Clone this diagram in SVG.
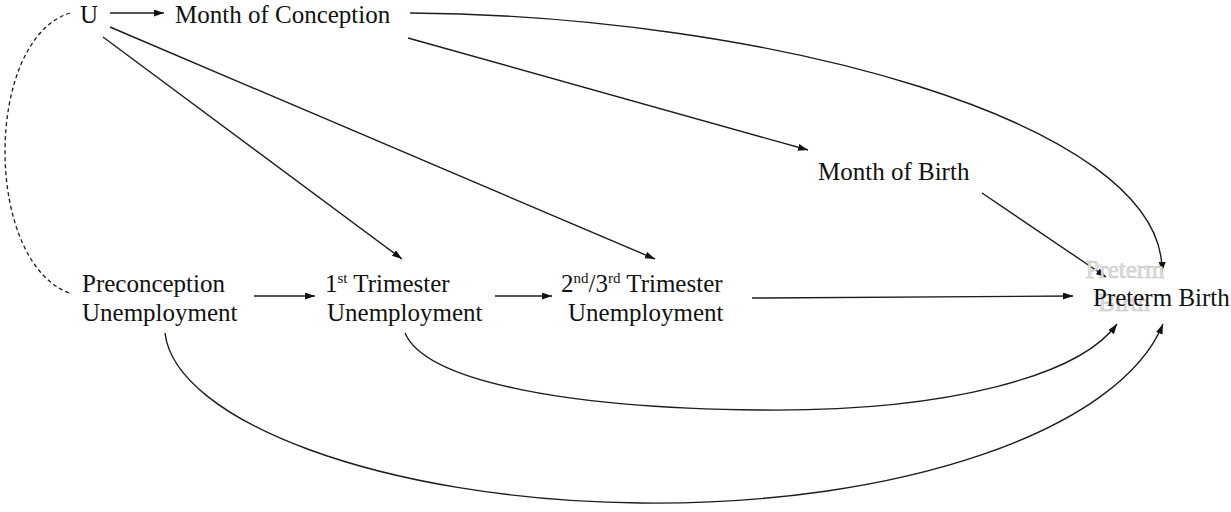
<svg xmlns="http://www.w3.org/2000/svg" width="1231" height="512" viewBox="0 0 1231 512">
  <style>
    .t { font-family: "Liberation Serif", "Times New Roman", serif; font-size: 25px; fill: #111; }
    .sup { font-size: 15px; }
    .ghost { font-family: "Liberation Serif", "Times New Roman", serif; font-size: 25px; fill: #e2e2e2; stroke: #c4c4c4; stroke-width: 0.6; text-anchor: middle; }
    .c { fill: none; stroke: #1c1c1c; stroke-width: 1.4; }
    .arr { marker-end: url(#ah); }
    .dash { stroke-dasharray: 4 3; stroke-width: 1.3; }
  </style>
  <defs>
    <marker id="ah" markerUnits="userSpaceOnUse" markerWidth="11" markerHeight="8" refX="10" refY="3.5" orient="auto">
      <path d="M0,0 L10,3.5 L0,7 z" fill="#111"/>
    </marker>
  </defs>
  <rect width="1231" height="512" fill="#fff"/>

  <g id="connectors">
    <path class="c dash" d="M70,13 C-17,40 -17,265 72,294"/>
    <line class="c arr" x1="110" y1="13" x2="164" y2="13"/>
    <line class="c arr" x1="103" y1="37" x2="402" y2="259"/>
    <line class="c arr" x1="110" y1="27" x2="655" y2="259"/>
    <line class="c arr" x1="408" y1="38" x2="808" y2="150"/>
    <path class="c arr" d="M410,13 C760,15 1165,120 1162,272"/>
    <line class="c arr" x1="982" y1="193" x2="1106" y2="277"/>
    <line class="c arr" x1="254" y1="296" x2="315" y2="296"/>
    <line class="c arr" x1="495" y1="296" x2="552" y2="296"/>
    <line class="c arr" x1="752" y1="298" x2="1073" y2="296"/>
    <path class="c arr" d="M405,333 C425,380 560,408 760,410 C950,412 1080,375 1117,324"/>
    <path class="c arr" d="M165,333 C175,420 380,500 640,503 C900,506 1120,430 1163,324"/>
  </g>

  <g id="node-U">
    <text class="t" x="80" y="23">U</text>
  </g>
  <g id="node-month-conception">
    <text class="t" x="175" y="23">Month of Conception</text>
  </g>
  <g id="node-month-birth">
    <text class="t" x="818" y="180">Month of Birth</text>
  </g>
  <g id="node-preconception">
    <text class="t" x="82" y="292">Preconception</text>
    <text class="t" x="82" y="321">Unemployment</text>
  </g>
  <g id="node-trimester1">
    <text class="t" x="325" y="292">1<tspan class="sup" dy="-9">st</tspan><tspan dy="9"> Trimester</tspan></text>
    <text class="t" x="327" y="321">Unemployment</text>
  </g>
  <g id="node-trimester23">
    <text class="t" x="561" y="292">2<tspan class="sup" dy="-9">nd</tspan><tspan dy="9">/3</tspan><tspan class="sup" dy="-9">rd</tspan><tspan dy="9"> Trimester</tspan></text>
    <text class="t" x="568" y="321">Unemployment</text>
  </g>
  <g id="node-preterm">
    <text class="ghost" x="1125" y="278">Preterm</text>
    <text class="ghost" x="1124" y="311">Birth</text>
    <text class="t" x="1093" y="306">Preterm Birth</text>
  </g>
</svg>
